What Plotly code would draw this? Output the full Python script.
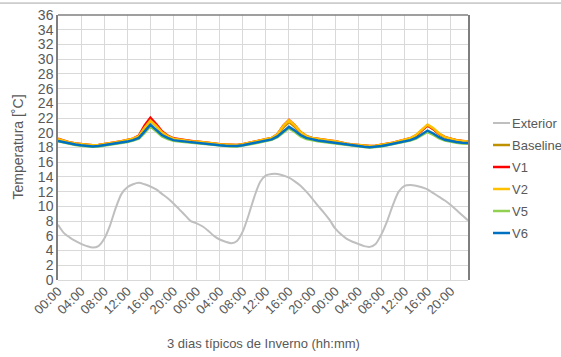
import plotly.graph_objects as go

# Hourly samples over three typical winter days (hour index 0..71)
hours = list(range(72))
tick_hours = list(range(0, 72, 4))
tick_labels = ["00:00", "04:00", "08:00", "12:00", "16:00", "20:00"] * 3

exterior = [7.5, 6.4, 5.8, 5.3, 4.9, 4.6, 4.4, 4.6, 5.6, 7.4, 9.8, 11.7,
            12.6, 13.0, 13.2, 13.0, 12.7, 12.3, 11.7, 11.1, 10.4, 9.6, 8.8, 8.0,
            7.7, 7.3, 6.7, 6.0, 5.5, 5.2, 5.0, 5.3, 6.6, 8.8, 11.3, 13.3,
            14.2, 14.4, 14.4, 14.2, 13.9, 13.4, 12.8, 12.0, 11.1, 10.1, 9.2, 8.2,
            7.0, 6.2, 5.6, 5.2, 4.9, 4.6, 4.5, 4.9, 6.2, 8.0, 10.2, 12.0,
            12.8, 12.9, 12.8, 12.6, 12.3, 11.8, 11.3, 10.8, 10.2, 9.5, 8.8, 8.1]

baseline = [19.1, 18.85, 18.65, 18.5, 18.4, 18.3, 18.25, 18.3, 18.4, 18.5, 18.65, 18.8,
            18.95, 19.15, 19.5, 20.6, 21.6, 20.9, 20.0, 19.5, 19.2, 19.05, 18.95, 18.85,
            18.75, 18.7, 18.6, 18.5, 18.4, 18.35, 18.3, 18.3, 18.4, 18.55, 18.7, 18.85,
            19.0, 19.25, 19.7, 20.7, 21.45, 20.8, 20.0, 19.5, 19.25, 19.1, 19.0, 18.9,
            18.8, 18.6, 18.45, 18.35, 18.25, 18.2, 18.15, 18.2, 18.3, 18.45, 18.6, 18.8,
            18.95, 19.2, 19.6, 20.3, 21.0, 20.5, 19.8, 19.35, 19.1, 18.95, 18.85, 18.75]

v1 = [19.2, 18.9, 18.7, 18.55, 18.45, 18.35, 18.3, 18.35, 18.45, 18.55, 18.7, 18.85,
      19.0, 19.2, 19.6, 21.0, 22.05, 21.2, 20.2, 19.6, 19.25, 19.1, 19.0, 18.9,
      18.8, 18.75, 18.65, 18.55, 18.45, 18.4, 18.35, 18.35, 18.45, 18.6, 18.75, 18.9,
      19.05, 19.3, 19.8, 20.95, 21.75, 21.0, 20.1, 19.55, 19.3, 19.15, 19.05, 18.95,
      18.85, 18.65, 18.5, 18.4, 18.3, 18.25, 18.2, 18.25, 18.35, 18.5, 18.65, 18.85,
      19.0, 19.25, 19.65, 20.35, 21.0, 20.5, 19.85, 19.4, 19.15, 19.0, 18.9, 18.8]

v2 = [19.15, 18.9, 18.7, 18.55, 18.45, 18.35, 18.3, 18.35, 18.45, 18.55, 18.7, 18.85,
      19.0, 19.2, 19.55, 20.7, 21.65, 20.95, 20.05, 19.55, 19.2, 19.05, 18.95, 18.85,
      18.8, 18.75, 18.65, 18.55, 18.45, 18.4, 18.35, 18.35, 18.45, 18.6, 18.75, 18.9,
      19.05, 19.3, 19.8, 20.9, 21.7, 21.0, 20.1, 19.55, 19.3, 19.15, 19.05, 18.95,
      18.85, 18.65, 18.5, 18.4, 18.3, 18.25, 18.2, 18.25, 18.35, 18.5, 18.65, 18.85,
      19.0, 19.25, 19.7, 20.45, 21.1, 20.6, 19.9, 19.4, 19.15, 19.0, 18.9, 18.8]

v5 = [18.85, 18.65, 18.45, 18.35, 18.25, 18.15, 18.1, 18.15, 18.25, 18.35, 18.45, 18.6,
      18.75, 18.95, 19.2, 20.0, 20.85, 20.2, 19.5, 19.15, 18.9, 18.8, 18.7, 18.6,
      18.55, 18.5, 18.45, 18.35, 18.25, 18.2, 18.15, 18.15, 18.25, 18.4, 18.55, 18.7,
      18.85, 19.05, 19.4, 20.0, 20.6, 20.1, 19.5, 19.15, 18.95, 18.85, 18.75, 18.65,
      18.55, 18.4, 18.3, 18.2, 18.1, 18.05, 18.0, 18.05, 18.15, 18.3, 18.45, 18.6,
      18.75, 18.95, 19.2, 19.65, 20.1, 19.7, 19.25, 18.95, 18.75, 18.65, 18.55, 18.5]

v6 = [18.9, 18.7, 18.5, 18.4, 18.3, 18.2, 18.15, 18.2, 18.3, 18.4, 18.5, 18.65,
      18.8, 19.0, 19.3, 20.2, 21.1, 20.4, 19.7, 19.3, 19.0, 18.9, 18.8, 18.7,
      18.6, 18.55, 18.5, 18.4, 18.3, 18.25, 18.2, 18.2, 18.3, 18.45, 18.6, 18.75,
      18.9, 19.1, 19.5, 20.2, 20.8, 20.3, 19.7, 19.3, 19.1, 18.95, 18.85, 18.75,
      18.6, 18.45, 18.35, 18.25, 18.15, 18.1, 18.05, 18.1, 18.2, 18.35, 18.5, 18.65,
      18.8, 19.0, 19.3, 19.8, 20.3, 19.9, 19.4, 19.05, 18.85, 18.75, 18.65, 18.6]

series = [
    ("Exterior", exterior, "#BFBFBF", 2.0, "spline"),
    ("Baseline", baseline, "#BF9000", 2.5, "linear"),
    ("V1", v1, "#FF0000", 2.5, "linear"),
    ("V2", v2, "#FFC000", 2.5, "linear"),
    ("V5", v5, "#92D050", 2.5, "linear"),
    ("V6", v6, "#0070C0", 2.5, "linear"),
]

FONT = "Liberation Sans, Arial, sans-serif"
TXT = "#595959"

# Plot-area geometry in pixels (used to place the side legend)
W, H = 561, 357
ML, MR, MT, MB = 58, 93, 15, 77
PW, PH = W - ML - MR, H - MT - MB


def px_to_paper_x(px):
    return (px - ML) / PW


def px_to_paper_y(py):
    return (H - MB - py) / PH


fig = go.Figure()
for name, vals, color, w, shape in series:
    fig.add_trace(go.Scatter(
        x=hours, y=vals, name=name, mode="lines",
        line=dict(color=color, width=w, shape=shape, smoothing=0.7),
        showlegend=False,
    ))

# Side legend: short line sample followed by the series name
legend_shapes, legend_texts = [], []
for i, (name, _, color, w, _) in enumerate(series):
    yp = px_to_paper_y(123 + 22 * i)
    legend_shapes.append(dict(
        type="line", xref="paper", yref="paper",
        x0=px_to_paper_x(493), x1=px_to_paper_x(510), y0=yp, y1=yp,
        line=dict(color=color, width=w),
    ))
    legend_texts.append(dict(
        text=name, xref="paper", yref="paper", x=px_to_paper_x(510), y=yp,
        xanchor="left", yanchor="middle", showarrow=False,
        font=dict(family=FONT, size=13, color=TXT),
    ))

fig.update_layout(
    width=W, height=H,
    margin=dict(l=ML, r=MR, t=MT, b=MB, autoexpand=False),
    paper_bgcolor="white", plot_bgcolor="white",
    font=dict(family=FONT, color=TXT, size=13),
    showlegend=False,
    xaxis=dict(
        range=[0, 71], tickmode="array", tickvals=tick_hours, ticktext=tick_labels,
        tickangle=-45, showgrid=True, gridcolor="#D9D9D9", gridwidth=1,
        showline=False, zeroline=False, ticks="",
        tickfont=dict(family=FONT, size=13, color=TXT),
    ),
    yaxis=dict(
        range=[0, 36], dtick=2, showgrid=True, gridcolor="#D9D9D9", gridwidth=1,
        zeroline=True, zerolinecolor="#D9D9D9", zerolinewidth=1,
        showline=True, linecolor="#7F7F7F", linewidth=1.5, mirror=True, ticks="",
        tickfont=dict(family=FONT, size=14, color=TXT),
    ),
    annotations=[
        dict(text="Temperatura [˚C]", xref="paper", yref="paper",
             x=-0.1, y=0.5, xanchor="center", yanchor="middle", textangle=-90,
             showarrow=False, font=dict(family=FONT, size=14, color=TXT)),
        dict(text="3 dias típicos de Inverno (hh:mm)", xref="paper", yref="paper",
             x=0.5, y=-0.238, xanchor="center", yanchor="middle",
             showarrow=False, font=dict(family=FONT, size=13, color=TXT)),
    ] + legend_texts,
    shapes=[
        dict(type="line", xref="paper", yref="paper", x0=0, x1=1, y0=1, y1=1,
             line=dict(color="#7F7F7F", width=1.5)),
        dict(type="line", xref="paper", yref="paper", x0=-0.2, x1=1.3, y0=1.045, y1=1.045,
             line=dict(color="#A6A6A6", width=1)),
    ] + legend_shapes,
)

fig.write_html("out.html")
